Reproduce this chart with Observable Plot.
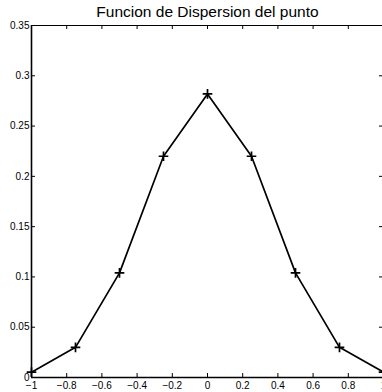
<!DOCTYPE html>
<html>
<head>
<meta charset="utf-8">
<script src="https://cdn.jsdelivr.net/npm/d3@7"></script>
<script src="https://cdn.jsdelivr.net/npm/@observablehq/plot@0.6"></script>
<style>
  html, body { margin: 0; padding: 0; background: #fff; overflow: hidden; }
  #chart { width: 382px; height: 392px; overflow: hidden; }
  svg { font-family: "Liberation Sans", Arial, Helvetica, sans-serif; }
</style>
</head>
<body>
<div id="chart"></div>
<script>
const title = "Funcion de Dispersion del punto";
const xValues = [-1, -0.75, -0.5, -0.25, 0, 0.25, 0.5, 0.75, 1];
const yValues = [0.0053, 0.030, 0.104, 0.220, 0.282, 0.220, 0.104, 0.030, 0.0053];
const xTicks = [-1, -0.8, -0.6, -0.4, -0.2, 0, 0.2, 0.4, 0.6, 0.8, 1];
const yTicks = [0, 0.05, 0.1, 0.15, 0.2, 0.25, 0.3, 0.35];

const data = xValues.map((x, i) => ({x, y: yValues[i]}));

const W = 382, H = 392;
const mL = 31, mR = -1, mT = 25, mB = 15;
const plotH = H - mT - mB;
const plotW = W - mL - mR;
const tk = 4;

const chart = Plot.plot({
  width: W,
  height: H,
  marginLeft: mL,
  marginRight: mR,
  marginTop: mT,
  marginBottom: mB,
  style: {fontSize: "10px", color: "#000", background: "#fff", overflow: "visible"},
  x: {domain: [-1, 1]},
  y: {domain: [0, 0.35]},
  marks: [
    Plot.frame({stroke: "#000", strokeWidth: 1}),
    Plot.ruleX([-1], {stroke: "#000", strokeWidth: 1.6}),
    Plot.ruleY([0], {stroke: "#000", strokeWidth: 1.6}),
    Plot.tickX(xTicks, {x: d => d, insetTop: plotH - tk, stroke: "#000"}),
    Plot.tickX(xTicks, {x: d => d, insetBottom: plotH - tk, stroke: "#000"}),
    Plot.tickY(yTicks, {y: d => d, insetRight: plotW - tk, stroke: "#000"}),
    Plot.tickY(yTicks, {y: d => d, insetLeft: plotW - tk, stroke: "#000"}),
    Plot.axisX(xTicks, {tickSize: 0, tickPadding: 4, fontSize: 10, label: null, tickFormat: d => d3.format("")(d).replace("-", "\u2013")}),
    Plot.axisY(yTicks, {tickSize: 0, tickPadding: 2, fontSize: 10, label: null, tickFormat: d => String(d)}),
    Plot.line(data, {x: "x", y: "y", stroke: "#000", strokeWidth: 1.7}),
    Plot.dot(data, {x: "x", y: "y", symbol: "plus", r: 3.2, stroke: "#000", strokeWidth: 1.7}),
    Plot.text([title], {frameAnchor: "top", lineAnchor: "middle", dy: -13, fontSize: 15.5, fill: "#000"})
  ]
});
document.getElementById("chart").appendChild(chart);
</script>
</body>
</html>
